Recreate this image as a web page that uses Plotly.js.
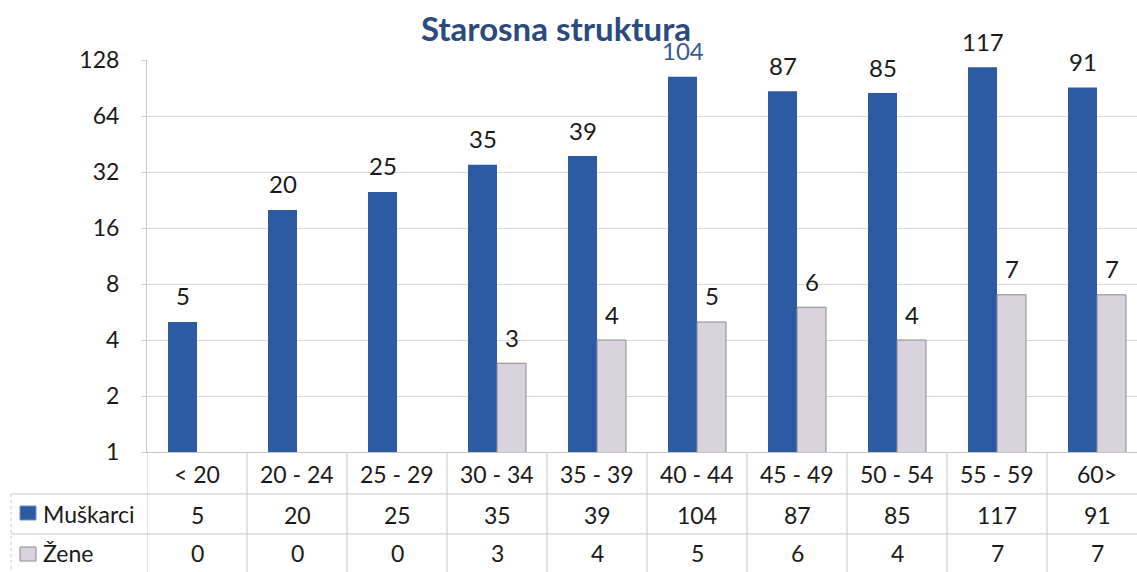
<!DOCTYPE html>
<html>
<head>
<meta charset="utf-8">
<script src="https://cdn.plot.ly/plotly-3.0.1.min.js"></script>
<style>html,body{margin:0;padding:0;background:#fff;}#chart{width:1137px;height:572px;}</style>
</head>
<body>
<div id="chart"></div>
<script>
const categories = ['< 20','20 - 24','25 - 29','30 - 34','35 - 39','40 - 44','45 - 49','50 - 54','55 - 59','60>'];
const muskarci = [5,20,25,35,39,104,87,85,117,91];
const zene = [0,0,0,3,4,5,6,4,7,7];
const seriesNames = ['Muškarci','Žene'];
const yTicks = [1,2,4,8,16,32,64,128];
const chartTitle = 'Starosna struktura';

const FONT = 'Lato, "Open Sans", "DejaVu Sans", sans-serif';
const blue = '#2c5aa3';
const grey = '#d8d3dc';
const textCol = '#1a1a1a';

// plot geometry (pixels)
const W = 1137, H = 572, L = 147, T = 60, B = 120;
const plotH = H - T - B;
const py = p => (H - B - p) / plotH;          // pixel y -> paper y
const px = p => (p - L) / (W - L);            // pixel x -> paper x

const idx = categories.map((_, i) => i);
const nz = a => a.map(v => v > 0 ? v : null);

const traces = [
  {type:'bar', name:seriesNames[0], x:idx, y:nz(muskarci), marker:{color:blue, line:{width:0}}, hoverinfo:'skip'},
  {type:'bar', name:seriesNames[1], x:idx, y:nz(zene), marker:{color:grey, line:{width:1, color:'#8c8c8c'}}, hoverinfo:'skip'}
];

const annotations = [];
// data labels
muskarci.forEach((v, i) => {
  if (v > 0) annotations.push({x:i, y:Math.log10(v), xref:'x', yref:'y', xshift:-14.5, yshift:26,
    xanchor:'center', yanchor:'middle',
    text:String(v), showarrow:false, font:{family:FONT, size:24, color: v === 104 ? '#3a5a93' : textCol}});
});
zene.forEach((v, i) => {
  if (v > 0) annotations.push({x:i, y:Math.log10(v), xref:'x', yref:'y', xshift:14.5, yshift:26,
    xanchor:'center', yanchor:'middle',
    text:String(v), showarrow:false, font:{family:FONT, size:24, color:textCol}});
});
// table rows
categories.forEach((c, i) => {
  annotations.push({x:i, y:py(474), xref:'x', yref:'paper', xanchor:'center', yanchor:'middle', text:c, showarrow:false, font:{family:FONT, size:23, color:textCol}});
  annotations.push({x:i, y:py(515), xref:'x', yref:'paper', xanchor:'center', yanchor:'middle', text:String(muskarci[i]), showarrow:false, font:{family:FONT, size:23, color:textCol}});
  annotations.push({x:i, y:py(553), xref:'x', yref:'paper', xanchor:'center', yanchor:'middle', text:String(zene[i]), showarrow:false, font:{family:FONT, size:23, color:textCol}});
});
annotations.push({x:px(41), y:py(514), xref:'paper', yref:'paper', xanchor:'left', yanchor:'middle', text:seriesNames[0], showarrow:false, font:{family:FONT, size:23, color:textCol}});
annotations.push({x:px(41), y:py(553), xref:'paper', yref:'paper', xanchor:'left', yanchor:'middle', text:seriesNames[1], showarrow:false, font:{family:FONT, size:23, color:textCol}});

const shapes = [];
const lineCol = '#c8c8c8';
for (let i = -1; i < categories.length; i++) {
  shapes.push({type:'line', xref:'x', yref:'paper', x0:i+0.5, x1:i+0.5, y0:0, y1:py(H), line:{color:lineCol, width:1}});
}
[494, 534].forEach(p => shapes.push({type:'line', xref:'paper', yref:'paper', x0:px(11), x1:1, y0:py(p), y1:py(p), line:{color:lineCol, width:1}}));
shapes.push({type:'line', xref:'paper', yref:'paper', x0:px(11), x1:px(11), y0:py(494), y1:py(H), line:{color:lineCol, width:1, dash:'dot'}});
// legend keys
shapes.push({type:'rect', xref:'paper', yref:'paper', x0:px(20), x1:px(36), y0:py(520), y1:py(506), fillcolor:blue, line:{color:'#6f8fc4', width:1}});
shapes.push({type:'rect', xref:'paper', yref:'paper', x0:px(20), x1:px(36), y0:py(561), y1:py(547), fillcolor:grey, line:{color:'#8c8c8c', width:1}});

const layout = {
  width: W, height: H,
  margin: {l:L, r:0, t:T, b:B, pad:0},
  paper_bgcolor:'#fff', plot_bgcolor:'#fff',
  font: {family:FONT, color:textCol},
  title: {text:'<b>' + chartTitle + '</b>', font:{family:FONT, size:33, color:'#2b4a7e'},
          xref:'container', yref:'container', x:556/W, xanchor:'center', y:1-29/H, yanchor:'middle'},
  showlegend:false,
  barmode:'group', bargap:0.42, bargroupgap:0,
  xaxis: {type:'linear', range:[-0.5, (W - L)/100 - 0.5], showgrid:false, zeroline:false, showticklabels:false,
          showline:true, linecolor:lineCol, linewidth:1, fixedrange:true},
  yaxis: {type:'log', range:[0, Math.log10(128)], tickvals:yTicks, ticktext:yTicks.map(String),
          showgrid:true, gridcolor:'#d9d9d9', gridwidth:1, zeroline:false,
          showline:true, linecolor:lineCol, linewidth:1, ticks:'outside', ticklen:5, tickcolor:lineCol,
          ticklabelstandoff:17, tickfont:{family:FONT, size:23, color:textCol}, fixedrange:true},
  annotations, shapes
};

Plotly.newPlot('chart', traces, layout, {staticPlot:true, displayModeBar:false});
</script>
</body>
</html>
